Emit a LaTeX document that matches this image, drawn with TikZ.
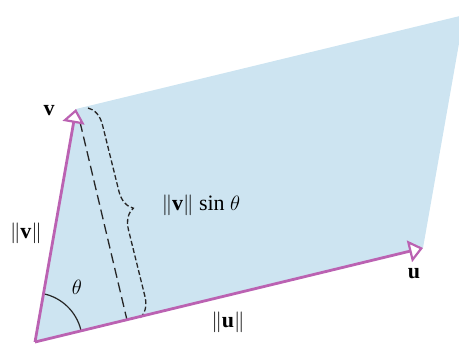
\documentclass[tikz,border=0pt]{standalone}
\usepackage{fontspec}
\setmainfont{Liberation Serif}
\usetikzlibrary{arrows.meta,decorations.pathreplacing,calc}
\definecolor{paral}{RGB}{205,228,241}
\definecolor{vecc}{RGB}{187,98,178}
\begin{document}
\begin{tikzpicture}[x=1pt,y=-1pt,
  vecline/.style={draw=vecc,line width=2.8pt,-{Triangle[fill=white,length=14pt,width=22pt,line width=2.2pt]}},
  lbl/.style={font=\fontsize{22}{24}\selectfont,inner sep=0pt}]
\useasboundingbox (0,0) rectangle (459,345);
\coordinate (O) at (35,342);
\coordinate (V) at (76,109);
\coordinate (U) at (423,248);
\coordinate (W) at (464,15);
\coordinate (F) at (127,320);
\coordinate (Fv) at (80,122);
\coordinate (B1) at (88,108);
\coordinate (B2) at (140,318);
\fill[paral] (O) -- (V) -- (W) -- (U) -- cycle;
\draw[black!85,line width=1.3pt,dash pattern=on 10pt off 5pt] (Fv) -- (F);
\draw[black!85,line width=1.3pt,dash pattern=on 5pt off 2.5pt,decorate,decoration={brace,amplitude=20pt,aspect=0.5}] (B1) -- (B2);
\draw[black!85,line width=1.2pt] ($(O)!49pt!(V)$) arc[start angle=78,end angle=14,radius=49pt];
\draw[vecline] (O) -- (V);
\draw[vecline] (O) -- (U);
\node[lbl] (lv) at (49,111) {\textbf{v}};
\node[lbl] (lu) at (414,274) {\textbf{u}};
\node[lbl] (nv) at (26,233) {$\|$\textbf{v}$\|$};
\node[lbl] (nu) at (228,322) {$\|$\textbf{u}$\|$};
\node[lbl] (th) at (77,287) {$\theta$};
\node[lbl] (vs) at (201,205) {$\|$\textbf{v}$\|$ sin $\theta$};
\end{tikzpicture}
\end{document}
